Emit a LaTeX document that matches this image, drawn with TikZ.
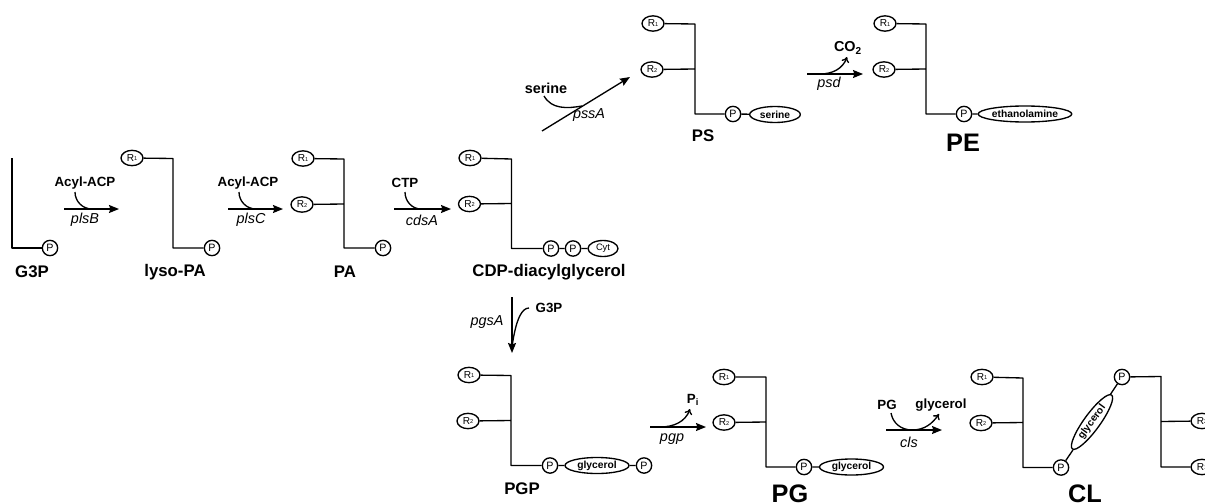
\documentclass[tikz,border=0pt]{standalone}
\usepackage{fontspec}
\setmainfont{Liberation Sans}
\usetikzlibrary{shapes.geometric,arrows.meta}
\newcommand{\Rn}[1]{R\raisebox{.15ex}{\fontsize{4.2}{4}\selectfont #1}}
\tikzset{
	chain/.style={ellipse,draw,line width=1pt,inner sep=0pt,minimum width=16.5pt,minimum height=11.5pt,fill=white,font=\fontsize{7.6}{8}\selectfont},
	phos/.style={circle,draw,line width=1pt,inner sep=0pt,minimum size=11.5pt,fill=white,font=\fontsize{8}{8}\selectfont},
	head/.style={ellipse,draw,line width=1pt,inner sep=0pt,minimum height=12pt,fill=white,font=\fontsize{7.7}{8}\selectfont\bfseries},
	lipid/.style={font=\fontsize{12.6}{14}\selectfont\bfseries},
	biglipid/.style={font=\fontsize{19}{20}\selectfont\bfseries,inner sep=0pt,text depth=0pt},
	sub/.style={font=\fontsize{10}{12}\selectfont\bfseries},
	enz/.style={font=\fontsize{10.8}{12}\selectfont\itshape},
	main/.style={->,line width=1pt},
	side/.style={line width=1pt}
}
\begin{document}
\begin{tikzpicture}[x=.75pt,y=-.75pt,line join=round,>={Stealth[length=7.5pt,width=6pt,inset=1pt]},line width=1pt]
			\path[use as bounding box,clip] (0,0) rectangle (1205,503);
			% G3P
			\node[phos] (pG) at (50,248) {P};
			\node[lipid] (nG) at (32,272) {G3P};
			\coordinate (sG) at (12,158);
			\coordinate (cG) at (12,248);
			\draw (sG)--(cG)--(pG);
			% lyso-PA
			\node[chain] (r1L) at (132,158) {\Rn{1}};
			\node[phos] (pL) at (212,248) {P};
			\node[lipid] (nL) at (175,272) {lyso-PA};
			\coordinate (tL) at (173,158.5);
			\coordinate (cL) at (173,248);
			\draw (r1L)--(tL)--(cL)--(pL);
			% PA
			\node[chain] (r1A) at (303,158.5) {\Rn{1}};
			\node[chain] (r2A) at (302,204.5) {\Rn{2}};
			\node[phos] (pA) at (383,248) {P};
			\node[lipid] (nA) at (345,272) {PA};
			\coordinate (tA) at (344,159);
			\coordinate (mA) at (344,204);
			\coordinate (cA) at (344,248);
			\draw (r1A)--(tA)--(cA)--(pA) (r2A)--(mA);
			% CDP-diacylglycerol
			\node[chain] (r1C) at (470,158) {\Rn{1}};
			\node[chain] (r2C) at (469.5,204) {\Rn{2}};
			\node[phos] (p1C) at (551,248.5) {P};
			\node[phos] (p2C) at (573,248.5) {P};
			\node[head,minimum width=22.5pt,font=\fontsize{7}{8}\selectfont] (cyt) at (603,248.5) {Cyt};
			\node[lipid] (nC) at (549,272) {CDP-diacylglycerol};
			\coordinate (tC) at (511.5,159);
			\coordinate (mC) at (511.5,203.5);
			\coordinate (cC) at (511.5,248.5);
			\draw (r1C)--(tC)--(cC)--(p1C)--(p2C)--(cyt) (r2C)--(mC);
			% PS
			\node[chain] (r1S) at (653,23.5) {\Rn{1}};
			\node[chain] (r2S) at (652,69.5) {\Rn{2}};
			\node[phos] (pS) at (733,114) {P};
			\node[head,minimum width=38pt] (serS) at (775,114.5) {serine};
			\node[lipid] (nS) at (703,136) {PS};
			\coordinate (tS) at (695,24);
			\coordinate (mS) at (695,69);
			\coordinate (cS) at (695,114);
			\draw (r1S)--(tS)--(cS)--(pS)--(serS) (r2S)--(mS);
			% PE
			\node[chain] (r1E) at (885,23.5) {\Rn{1}};
			\node[chain] (r2E) at (884,69.5) {\Rn{2}};
			\node[phos] (pE) at (964,114) {P};
			\node[head,minimum width=68pt] (eth) at (1025,114) {ethanolamine};
			\node[biglipid] (nE) at (963,142.5) {PE};
			\coordinate (tE) at (926,24);
			\coordinate (mE) at (926,69);
			\coordinate (cE) at (926,114);
			\draw (r1E)--(tE)--(cE)--(pE)--(eth) (r2E)--(mE);
			% PGP
			\node[chain] (r1P) at (469,375) {\Rn{1}};
			\node[chain] (r2P) at (468,421) {\Rn{2}};
			\node[phos] (p1P) at (550,465.5) {P};
			\node[head,minimum width=48pt] (glyP) at (597,465.5) {glycerol};
			\node[phos] (p2P) at (644,465.5) {P};
			\node[lipid] (nP) at (522,489) {PGP};
			\coordinate (tP) at (511,375.5);
			\coordinate (mP) at (511,420.5);
			\coordinate (cP) at (511,465.5);
			\draw (r1P)--(tP)--(cP)--(p1P)--(glyP)--(p2P) (r2P)--(mP);
			% PG
			\node[chain] (r1Q) at (724,377) {\Rn{1}};
			\node[chain] (r2Q) at (724,422.5) {\Rn{2}};
			\node[phos] (pQ) at (804,467) {P};
			\node[head,minimum width=48pt] (glyQ) at (851.5,467) {glycerol};
			\node[biglipid] (nQ) at (790,493.5) {PG};
			\coordinate (tQ) at (766,377);
			\coordinate (mQ) at (766,422);
			\coordinate (cQ) at (766,467);
			\draw (r1Q)--(tQ)--(cQ)--(pQ)--(glyQ) (r2Q)--(mQ);
			% CL
			\node[chain] (r1Cl) at (982,377) {\Rn{1}};
			\node[chain] (r2Cl) at (981,423) {\Rn{2}};
			\node[phos] (p1Cl) at (1061,467.5) {P};
			\node[head,minimum width=50pt,rotate=54] (glyCl) at (1092,422) {glycerol};
			\node[phos] (p2Cl) at (1122,377) {P};
			\node[chain] (r3Cl) at (1202,421) {\Rn{2}};
			\node[chain] (r4Cl) at (1202,467) {\Rn{1}};
			\node[biglipid] (nCl) at (1085,493.5) {CL};
			\coordinate (tCl) at (1023,378);
			\coordinate (mCl) at (1023,422.5);
			\coordinate (cCl) at (1023,467.5);
			\coordinate (tCr) at (1161,376.5);
			\coordinate (mCr) at (1161,421.5);
			\coordinate (cCr) at (1161,467);
			\draw (r1Cl)--(tCl)--(cCl)--(p1Cl)--(glyCl)--(p2Cl)--(tCr)--(cCr)--(r4Cl) (r2Cl)--(mCl) (mCr)--(r3Cl);
			% plsB
			\coordinate (a1) at (64,209);
			\coordinate (b1) at (119,209);
			\coordinate (c1) at (92,209);
			\coordinate (d1) at (75,192);
			\node[sub] (s1) at (85,183) {Acyl-ACP};
			\node[enz] (e1) at (85,219.5) {plsB};
			\draw[main] (a1)--(b1);
			\draw[side] (d1) to[out=-90,in=180] (c1);
			% plsC
			\coordinate (a2) at (228,209);
			\coordinate (b2) at (283,209);
			\coordinate (c2) at (256,209);
			\coordinate (d2) at (239,192);
			\node[sub] (s2) at (248,183) {Acyl-ACP};
			\node[enz] (e2) at (251,219.5) {plsC};
			\draw[main] (a2)--(b2);
			\draw[side] (d2) to[out=-90,in=180] (c2);
			% cdsA
			\coordinate (a3) at (394,209);
			\coordinate (b3) at (451,209);
			\coordinate (c3) at (421,209);
			\coordinate (d3) at (405,192);
			\node[sub] (s3) at (405,183) {CTP};
			\node[enz] (e3) at (422,220) {cdsA};
			\draw[main] (a3)--(b3);
			\draw[side] (d3) to[out=-90,in=180] (c3);
			% pssA
			\coordinate (a4) at (542,131);
			\coordinate (b4) at (630,77);
			\coordinate (c4) at (582,106);
			\coordinate (d4) at (544,96);
			\node[sub,font=\fontsize{10.8}{12}\selectfont\bfseries] (s4) at (546,88) {serine};
			\node[enz] (e4) at (589,115.5) {pssA};
			\draw[main] (a4)--(b4);
			\draw[side] (d4) to[out=-60,in=190] (c4);
			% psd
			\coordinate (a5) at (807,74);
			\coordinate (b5) at (863,74);
			\coordinate (c5) at (820,74);
			\coordinate (d5) at (847,57);
			\node[sub,font=\fontsize{10.8}{12}\selectfont\bfseries] (s5) at (848,48) {CO\textsubscript{2}};
			\node[enz] (e5) at (829,83.5) {psd};
			\draw[main] (a5)--(b5);
			\draw[side,-{To[length=4pt,width=6pt]}] (c5) to[out=0,in=-110] (d5);
			% pgsA
			\coordinate (a6) at (512,297);
			\coordinate (b6) at (512,353);
			\coordinate (c6) at (512,342);
			\coordinate (d6) at (529,308);
			\node[sub] (s6) at (549,308) {G3P};
			\node[enz] (e6) at (487,322) {pgsA};
			\draw[main] (a6)--(b6);
			\draw[side] (d6) to[out=180,in=-90] (c6);
			% pgp
			\coordinate (a7) at (650,427);
			\coordinate (b7) at (706,427);
			\coordinate (c7) at (660,427);
			\coordinate (d7) at (690,409);
			\node[sub] (s7) at (693,400) {P\textsubscript{i}};
			\node[enz] (e7) at (672,439) {pgp};
			\draw[main] (a7)--(b7);
			\draw[side,-{To[length=4pt,width=6pt]}] (c7) to[out=0,in=-110] (d7);
			% cls
			\coordinate (a8) at (886,430);
			\coordinate (b8) at (942,430);
			\coordinate (c8) at (912,430);
			\coordinate (d8) at (891,413);
			\coordinate (f8) at (939,414);
			\node[sub] (s8) at (887,405) {PG};
			\node[sub] (t8) at (941,405) {glycerol};
			\node[enz] (e8) at (909,442) {cls};
			\draw[main] (a8)--(b8);
			\draw[side,-{To[length=4pt,width=6pt]}] (d8) to[out=-80,in=180] (c8) to[out=0,in=-125] (f8);
	\end{tikzpicture}
\end{document}
